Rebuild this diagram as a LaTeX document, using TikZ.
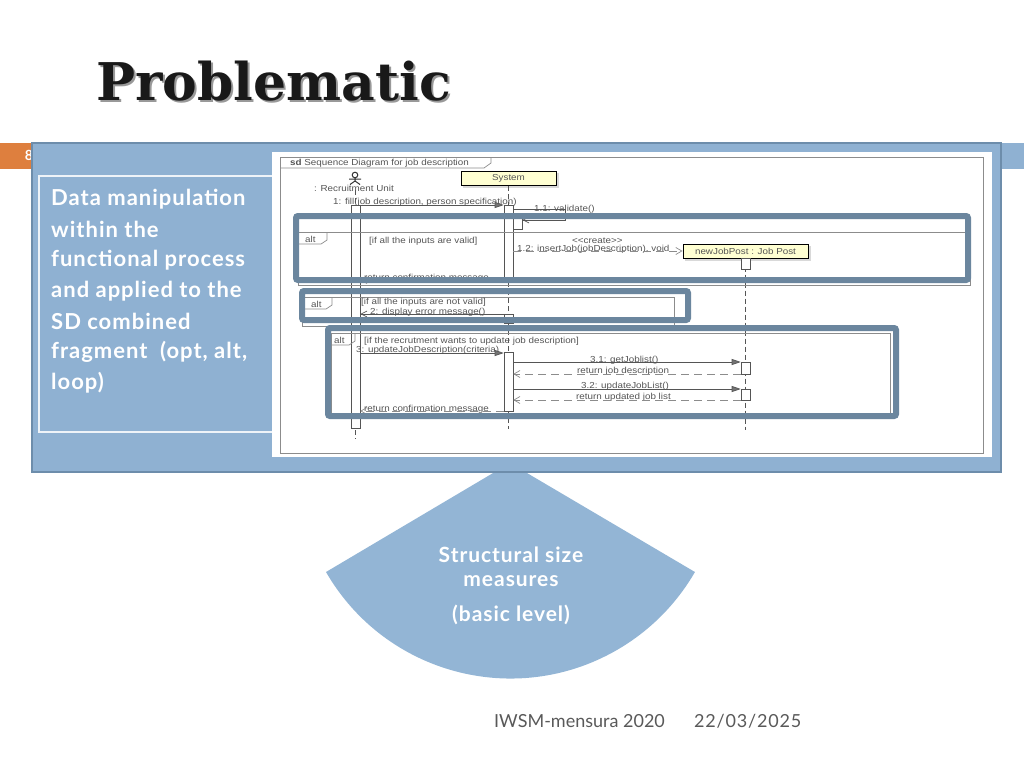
\documentclass[tikz,border=0pt]{standalone}
\usepackage{fontspec}
\setmainfont{Lato}
\newfontfamily\slidefont[LetterSpace=4.5]{Lato}
\newfontfamily\titlefont{DejaVu Serif}
\newfontfamily\seqfont[FakeStretch=1.13]{Liberation Sans}
\usetikzlibrary{arrows.meta}
\definecolor{panelblue}{HTML}{8FB1D2}
\definecolor{paneledge}{HTML}{6D8DAB}
\definecolor{wedgeblue}{HTML}{93B5D5}
\definecolor{tabcolor}{HTML}{DE7F3E}
\definecolor{markblue}{HTML}{6B869E}
\definecolor{seqgray}{HTML}{555555}
\definecolor{headyellow}{HTML}{FFFFD2}
\tikzset{
  seqtext/.style={anchor=west,inner sep=0pt,yshift=-1pt,text=seqgray,font=\seqfont\fontsize{8.7}{10}\selectfont},
  boxtext/.style={anchor=west,inner sep=0pt,text=white,font=\slidefont\bfseries\fontsize{22}{24}\selectfont},
  sizetext/.style={inner sep=0pt,text=white,font=\slidefont\bfseries\fontsize{21}{24}\selectfont},
  foottext/.style={anchor=west,inner sep=0pt,text=black!65,font=\fontsize{18}{20}\selectfont},
  head/.style={draw=black,line width=1pt,fill=headyellow,inner sep=0pt,text=seqgray,font=\seqfont\fontsize{8.7}{10}\selectfont},
  bar/.style={draw=seqgray,fill=white,line width=0.6pt,inner sep=0pt,minimum width=9pt},
  frameline/.style={draw=black!45,line width=0.7pt},
  lifeline/.style={draw=seqgray,line width=1pt,dash pattern=on 5pt off 3pt},
  callmsg/.style={draw=seqgray,line width=0.7pt,-{Triangle[length=9pt,width=6pt,fill=black!55]}},
  replymsg/.style={draw=black!45,line width=0.7pt,dash pattern=on 8pt off 5pt,-{Straight Barb[length=6pt,width=7pt]}},
  opensync/.style={draw=seqgray,line width=0.7pt,-{Straight Barb[length=6pt,width=6pt]}},
  markbox/.style={draw=markblue,line width=6pt,rounded corners=2pt},
}
\begin{document}
\begin{tikzpicture}[x=1pt,y=-1pt]
  \useasboundingbox (0,0) rectangle (1024,768);
  % title
  \node[anchor=base west,inner sep=0pt,text=black!40,font=\titlefont\bfseries\fontsize{52}{56}\selectfont] (titleshade) at (98,102) {Problematic};
  \node[anchor=base west,inner sep=0pt,text=black!90,font=\titlefont\bfseries\fontsize{52}{56}\selectfont] (title) at (96,100) {Problematic};
  % page band
  \fill[tabcolor] (0,143) rectangle (32,169);
  \fill[panelblue] (1001,143) rectangle (1024,169);
  \node[inner sep=0pt,text=white,font=\bfseries\fontsize{14}{16}\selectfont] (pagenum) at (29,155) {8};
  % wedge under the panel
  \fill[wedgeblue] (510,463) -- (326,572) arc[start angle=210,end angle=330,radius=213pt] -- cycle;
  \node[sizetext] (size1) at (511,555) {Structural size};
  \node[sizetext] (size2) at (511,581) {measures};
  \node[sizetext] (size3) at (511,615) {(basic level)};
  % panel
  \draw[paneledge,fill=panelblue,line width=2pt] (32,143) rectangle (1001,472);
  \draw[draw=white!85!panelblue,line width=2.5pt] (272,176) -- (39,176) -- (39,432) -- (272,432);
  \node[boxtext] (line1) at (51,199) {Data manipulation};
  \node[boxtext] (line2) at (51,229) {within the};
  \node[boxtext] (line3) at (51,260) {functional process};
  \node[boxtext] (line4) at (51,291) {and applied to the};
  \node[boxtext] (line5) at (51,321) {SD combined};
  \node[boxtext] (line6) at (51,352) {fragment\ \ (opt, alt,};
  \node[boxtext] (line7) at (51,383) {loop)};
  % screenshot
  \fill[white] (272,152) rectangle (992,457);
  \draw[frameline] (280,157) rectangle (983,453);
  \draw[frameline] (280,168) -- (484,168) -- (491,163) -- (491,157);
  \node[seqtext] (sdlabel) at (290,162) {\textbf{sd} Sequence Diagram for job description};
  % lifelines
  \node[inner sep=0pt] (actor) at (355,178) {};
  \draw[black!80,line width=1pt] (355,175) circle (2.8pt);
  \draw[black!80,line width=1pt] (355,178) -- (355,181) (349,179) -- (361,179) (350,184.5) -- (355,181) -- (360,184.5);
  \node[seqtext] (unitname) at (314,187) {: Recruitment Unit};
  \node[head,minimum width=95pt,minimum height=14pt,draw=black!15,fill=black!15] (systemshade) at (510.5,180.5) {};
  \node[head,minimum width=95pt,minimum height=14pt] (system) at (508.5,178.5) {System};
  \node[head,minimum width=125pt,minimum height=14pt,draw=black!15,fill=black!15] (jobpostshade) at (747.5,253) {};
  \node[head,minimum width=125pt,minimum height=14pt] (jobpost) at (745.5,251) {newJobPost : Job Post};
  \coordinate (unitend) at (355.5,439);
  \coordinate (systemend) at (508.5,429);
  \coordinate (jobpostend) at (745.5,430);
  \draw[lifeline] (355.5,190) -- (unitend);
  \draw[lifeline] (system.south) -- (systemend);
  \draw[lifeline] (jobpost.south) -- (jobpostend);
  % activation bars
  \node[bar,minimum height=223pt] (unitbar) at (355.5,316.5) {};
  \node[bar,minimum height=72pt] (sysbar1) at (508.5,241) {};
  \node[bar,minimum height=12pt] (selfbar) at (517.5,223) {};
  \node[bar,minimum height=9pt] (sysbar2) at (508.5,318.5) {};
  \node[bar,minimum height=59pt] (sysbar3) at (508.5,382) {};
  \node[bar,minimum height=11pt] (postbar) at (745.5,263.5) {};
  \node[bar,minimum height=12pt] (postbar1) at (745.5,368) {};
  \node[bar,minimum height=11pt] (postbar2) at (745.5,394.5) {};
  % fragments
  \draw[frameline] (298,232) -- (970,232) (298,232) -- (298,285) -- (970,285) -- (970,232);
  \draw[frameline] (298,244) -- (321,244) -- (327,240) -- (327,232);
  \node[seqtext] (altone) at (305,238) {alt};
  \draw[frameline] (302,297) -- (674,297) -- (674,326) -- (302,326) -- cycle;
  \draw[frameline] (302,309) -- (326,309) -- (332,305) -- (332,297);
  \node[seqtext] (alttwo) at (311,303) {alt};
  \draw[frameline] (331,333) rectangle (890,413);
  \draw[frameline] (331,345) -- (349,345) -- (355,341) -- (355,333);
  \node[seqtext] (altthree) at (334,339) {alt};
  % guards
  \node[seqtext] (guardone) at (369,240) {[if all the inputs are valid]};
  \node[seqtext] (guardtwo) at (361,301) {[if all the inputs are not valid]};
  \node[seqtext] (guardthree) at (364,340) {[if the recrutment wants to update job description]};
  % messages
  \node[seqtext] (msgfill) at (333,201) {1: fill(job description, person specification)};
  \draw[callmsg] (unitbar.east |- 0,205) -- (sysbar1.west |- 0,205);
  \node[seqtext] (msgvalidate) at (534,208) {1.1: validate()};
  \draw[opensync] (sysbar1.east |- 0,209) -- (565,209) -- (565,220) -- (selfbar.east |- 0,220);
  \node[seqtext] (msgcreate) at (572,240) {<{}<create>{}>};
  \node[seqtext] (msginsert) at (517,248) {1.2: insertJob(jobDescription), void};
  \draw[replymsg] (sysbar1.east |- 0,251) -- (jobpost.west);
  \node[seqtext] (msgconfirmone) at (364,277) {return confirmation message};
  \draw[replymsg] (sysbar1.west |- 0,280) -- (unitbar.east |- 0,280);
  \node[seqtext] (msgerror) at (370,311) {2: display error message()};
  \draw[opensync] (sysbar2.west |- 0,314) -- (unitbar.east |- 0,314);
  \node[seqtext] (msgupdate) at (356,349) {3: updateJobDescription(criteria)};
  \draw[callmsg] (unitbar.east |- 0,353) -- (sysbar3.west |- 0,353);
  \node[seqtext] (msgget) at (590,359) {3.1: getJoblist()};
  \draw[callmsg] (sysbar3.east |- 0,362) -- (postbar1.west |- 0,362);
  \node[seqtext] (msgreturnjob) at (577,370) {return job description};
  \draw[replymsg] (postbar1.west |- 0,374) -- (sysbar3.east |- 0,374);
  \node[seqtext] (msgupdatelist) at (581,385) {3.2: updateJobList()};
  \draw[callmsg] (sysbar3.east |- 0,389) -- (postbar2.west |- 0,389);
  \node[seqtext] (msgreturnlist) at (576,396) {return updated job list};
  \draw[replymsg] (postbar2.west |- 0,400) -- (sysbar3.east |- 0,400);
  \node[seqtext] (msgconfirmtwo) at (364,408) {return confirmation message};
  \draw[replymsg] (sysbar3.west |- 0,411) -- (unitbar.east |- 0,411);
  % highlight boxes
  \draw[markbox] (296,216) rectangle (968,280);
  \draw[markbox] (302,291) rectangle (688,320);
  \draw[markbox] (328,328) rectangle (896,416);
  % footer
  \node[foottext] (event) at (494,721) {IWSM-mensura 2020};
  \node[foottext,font=\slidefont\fontsize{18}{20}\selectfont] (date) at (694,721) {22/03/2025};
\end{tikzpicture}
\end{document}
